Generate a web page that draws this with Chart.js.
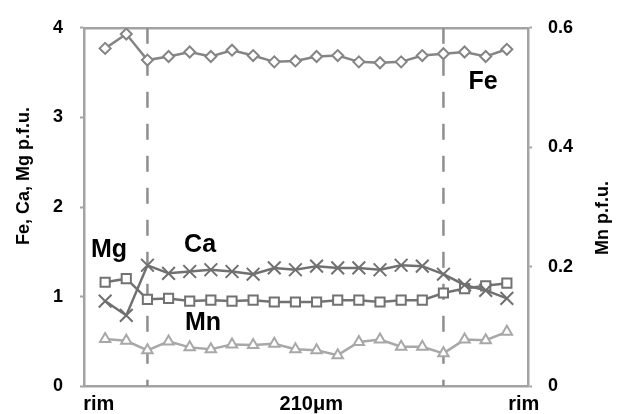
<!DOCTYPE html>
<html>
<head>
<meta charset="utf-8">
<script src="https://cdn.jsdelivr.net/npm/chart.js@4/dist/chart.umd.min.js"></script>
<style>
  html, body { margin: 0; padding: 0; background: #fff; }
  #wrap { width: 617px; height: 414px; }
</style>
</head>
<body>
<div id="wrap"><canvas id="c" width="617" height="414"></canvas></div>
<script>
// Analysis spots along the rim-to-rim traverse
const spots = [1, 2, 3, 4, 5, 6, 7, 8, 9, 10, 11, 12, 13, 14, 15, 16, 17, 18, 19, 20];

// Cations per formula unit at each spot
const fe = [3.77, 3.93, 3.64, 3.68, 3.73, 3.68, 3.75, 3.69, 3.62, 3.63, 3.68, 3.69, 3.62, 3.61, 3.62, 3.69, 3.71, 3.73, 3.68, 3.76];
const ca = [0.95, 0.79, 1.35, 1.26, 1.28, 1.30, 1.28, 1.25, 1.32, 1.30, 1.34, 1.32, 1.32, 1.30, 1.35, 1.34, 1.25, 1.13, 1.07, 0.98];
const mg = [1.16, 1.20, 0.97, 0.98, 0.95, 0.96, 0.95, 0.96, 0.94, 0.94, 0.94, 0.96, 0.96, 0.94, 0.96, 0.96, 1.04, 1.09, 1.12, 1.15];
const mn = [0.079, 0.076, 0.060, 0.075, 0.065, 0.062, 0.070, 0.069, 0.071, 0.062, 0.060, 0.052, 0.074, 0.078, 0.066, 0.066, 0.055, 0.078, 0.077, 0.091];

// Core / rim boundaries (spot positions) marked with dashed lines
const zoneBounds = [3, 17];

// Traverse labels under the x axis and where they sit along it
const xLabels = ['rim', '210\u03bcm', 'rim'];
const xLabelAt = [0.7, 10.75, 20.8];

const leftTicks = [0, 1, 2, 3, 4];
const rightTicks = [0, 0.2, 0.4, 0.6];

const FONT = '"Liberation Sans", Arial, Helvetica, sans-serif';
const AXIS_GREY = '#a3a3a3';

const pts = vals => spots.map((s, i) => ({ x: s, y: vals[i] }));

const series = (label, vals, color, style, radius, axis) => ({
  label, data: pts(vals), yAxisID: axis,
  borderColor: color, borderWidth: 2.5,
  pointStyle: style, pointRadius: radius, pointHoverRadius: radius,
  pointBorderColor: color, pointBorderWidth: 2, pointBackgroundColor: '#ffffff',
  tension: 0, order: 1
});

const boundaryLines = zoneBounds.map(b => ({
  label: 'bound', data: [{ x: b, y: leftTicks[leftTicks.length - 1] }, { x: b, y: leftTicks[0] }],
  yAxisID: 'y', borderColor: '#8e8e8e', borderWidth: 2.5, borderDash: [16, 16],
  pointRadius: 0, order: 5
}));

// Names of the series written next to their curves, plus the axis titles
const annotate = {
  id: 'annotate',
  afterDraw(chart) {
    const ctx = chart.ctx;
    const { x, y } = chart.scales;
    ctx.save();
    ctx.fillStyle = '#000';
    ctx.textAlign = 'center';
    ctx.textBaseline = 'middle';
    ctx.font = 'bold 25px ' + FONT;
    [['Fe', 18.87, 3.39], ['Mg', 1.18, 1.515], ['Ca', 5.49, 1.58], ['Mn', 5.63, 0.70]].forEach(([t, vx, vy]) => {
      ctx.fillText(t, x.getPixelForValue(vx), y.getPixelForValue(vy));
    });
    ctx.font = 'bold 18px ' + FONT;
    ctx.translate(24, 176);
    ctx.rotate(-Math.PI / 2);
    ctx.fillText('Fe, Ca, Mg p.f.u.', 0, 0);
    ctx.restore();
    ctx.save();
    ctx.fillStyle = '#000';
    ctx.textAlign = 'center';
    ctx.textBaseline = 'middle';
    ctx.font = 'bold 18px ' + FONT;
    ctx.translate(603, 218);
    ctx.rotate(-Math.PI / 2);
    ctx.fillText('Mn p.f.u.', 0, 0);
    ctx.restore();
  }
};

const tickFont = { family: FONT, size: 18, weight: 'bold' };

new Chart(document.getElementById('c'), {
  type: 'line',
  data: {
    datasets: [
      series('Fe', fe, '#858585', 'rectRot', 5.5, 'y'),
      series('Ca', ca, '#707070', 'crossRot', 9, 'y'),
      series('Mg', mg, '#727272', 'rect', 6.5, 'y'),
      series('Mn', mn, '#a8a8a8', 'triangle', 6, 'y1'),
      ...boundaryLines
    ]
  },
  options: {
    responsive: false,
    animation: false,
    layout: { padding: 0 },
    plugins: { legend: { display: false }, tooltip: { enabled: false } },
    scales: {
      x: {
        type: 'linear', position: 'bottom', min: 0, max: 21,
        grid: { display: false, drawTicks: false },
        border: { display: true, color: AXIS_GREY, width: 2.5 },
        afterBuildTicks: s => { s.ticks = xLabelAt.map(v => ({ value: v })); },
        ticks: {
          autoSkip: false, maxRotation: 0, minRotation: 0, padding: 6,
          color: '#000', font: { family: FONT, size: 20, weight: 'bold' },
          callback: (v, i) => xLabels[i]
        },
        afterFit: s => { s.height = 27; }
      },
      xTop: {
        type: 'linear', position: 'top', min: 0, max: 21,
        grid: { display: false }, ticks: { display: false },
        border: { display: true, color: AXIS_GREY, width: 2.5 },
        afterFit: s => { s.height = 17.5; }
      },
      y: {
        position: 'left', min: 0, max: 4,
        afterBuildTicks: s => { s.ticks = leftTicks.map(v => ({ value: v })); },
        grid: { display: true, drawOnChartArea: false, drawTicks: true, tickLength: 4, tickColor: AXIS_GREY, tickWidth: 2 },
        border: { display: true, color: AXIS_GREY, width: 2.5 },
        ticks: { padding: 17, color: '#000', font: tickFont },
        afterFit: s => { s.width = 84; }
      },
      y1: {
        position: 'right', min: 0, max: 0.6,
        afterBuildTicks: s => { s.ticks = rightTicks.map(v => ({ value: v })); },
        grid: { display: true, drawOnChartArea: false, drawTicks: true, tickLength: 4, tickColor: AXIS_GREY, tickWidth: 2 },
        border: { display: true, color: AXIS_GREY, width: 2.5 },
        ticks: { padding: 16, color: '#000', font: tickFont, callback: v => (v === 0 ? '0' : v.toFixed(1)) },
        afterFit: s => { s.width = 89; }
      }
    }
  },
  plugins: [annotate]
});
</script>
</body>
</html>
